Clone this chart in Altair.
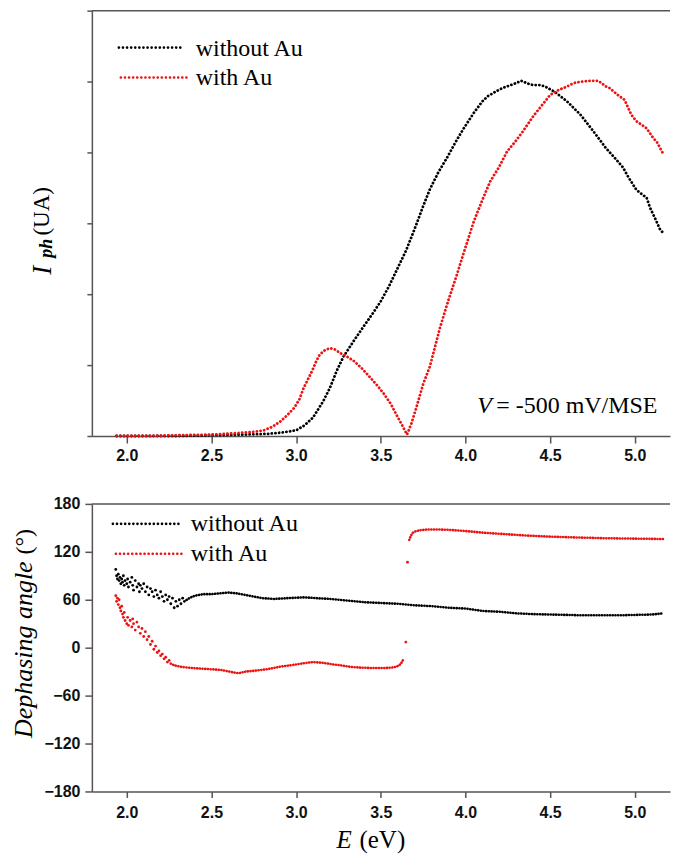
import altair as alt
import pandas as pd

# ---------------- data ----------------
series = ["without Au", "with Au"]
colors = ["#000000", "#ee1111"]

x_ticks = [2.0, 2.5, 3.0, 3.5, 4.0, 4.5, 5.0]
top_y_ticks = [0, 1, 2, 3, 4, 5, 6]
bot_y_ticks = [-180, -120, -60, 0, 60, 120, 180]
E_DOMAIN = [1.794, 5.208]

# Top panel: photocurrent (arbitrary units)
top_black_E = [1.94, 2.10, 2.30, 2.50, 2.70, 2.83, 2.92, 3.00, 3.05, 3.10, 3.16, 3.20, 3.24, 3.28, 3.34,
               3.40, 3.45, 3.50, 3.55, 3.60, 3.65, 3.70, 3.75, 3.79, 3.84, 3.89, 3.94, 3.99, 4.05, 4.10,
               4.13, 4.18, 4.22, 4.28, 4.33, 4.37, 4.40, 4.44, 4.47, 4.53, 4.60, 4.68, 4.755, 4.83, 4.89,
               4.93, 4.96, 5.01, 5.07, 5.09, 5.12, 5.15, 5.17]
top_black_I = [0.00, 0.00, 0.00, 0.01, 0.02, 0.03, 0.05, 0.08, 0.15, 0.26, 0.49, 0.68, 0.92, 1.12, 1.34,
               1.55, 1.72, 1.90, 2.12, 2.37, 2.62, 2.92, 3.24, 3.48, 3.72, 3.92, 4.14, 4.34, 4.56, 4.72,
               4.79, 4.86, 4.91, 4.96, 5.01, 4.97, 4.95, 4.95, 4.93, 4.85, 4.72, 4.53, 4.30, 4.06, 3.90,
               3.79, 3.66, 3.47, 3.36, 3.22, 3.07, 2.91, 2.86]

top_red_E = [1.94, 2.10, 2.30, 2.50, 2.65, 2.75, 2.81, 2.86, 2.91, 2.95, 2.99, 3.02, 3.045, 3.07, 3.095,
             3.12, 3.14, 3.17, 3.20, 3.23, 3.26, 3.30, 3.34, 3.39, 3.44, 3.48, 3.52, 3.56, 3.59, 3.62,
             3.655, 3.68, 3.71, 3.75, 3.79, 3.85, 3.90, 3.95, 4.00, 4.05, 4.10, 4.146, 4.20, 4.245, 4.30,
             4.34, 4.40, 4.44, 4.50, 4.55, 4.60, 4.64, 4.69, 4.74, 4.785, 4.83, 4.85, 4.90, 4.94, 4.98,
             5.01, 5.07, 5.11, 5.13, 5.15, 5.17]
top_red_I = [0.00, 0.00, 0.01, 0.02, 0.04, 0.06, 0.08, 0.13, 0.21, 0.30, 0.40, 0.52, 0.68, 0.80, 0.92,
             1.06, 1.15, 1.21, 1.24, 1.22, 1.17, 1.12, 1.06, 0.95, 0.82, 0.71, 0.59, 0.45, 0.31, 0.18,
             0.02, 0.17, 0.40, 0.73, 0.98, 1.53, 1.92, 2.28, 2.66, 3.03, 3.33, 3.59, 3.80, 4.01, 4.17,
             4.30, 4.51, 4.63, 4.81, 4.88, 4.93, 4.98, 5.00, 5.01, 5.01, 4.93, 4.91, 4.81, 4.74, 4.53,
             4.44, 4.34, 4.20, 4.15, 4.06, 3.97]

# Bottom panel: dephasing angle (degrees)
bot_black_cloud_E = [1.935, 1.94, 1.945, 1.95, 1.955, 1.96, 1.965, 1.97, 1.975, 1.98, 1.985, 1.99, 2.00,
                     2.005, 2.01, 2.02, 2.03, 2.035, 2.04, 2.05, 2.06, 2.07, 2.075, 2.08, 2.09, 2.10,
                     2.11, 2.12, 2.13, 2.14, 2.15, 2.16, 2.17, 2.18, 2.19, 2.20, 2.21, 2.22, 2.23, 2.24,
                     2.25, 2.26, 2.27, 2.28, 2.29, 2.30, 2.31, 2.32, 2.33]
bot_black_cloud_A = [98, 90, 86, 92, 84, 88, 80, 86, 82, 90, 78, 84, 80,
                     86, 76, 82, 88, 78, 72, 84, 76, 80, 70, 78, 74, 80,
                     70, 76, 66, 74, 70, 64, 72, 66, 62, 70, 64, 58, 66, 60,
                     64, 55, 62, 50, 58, 52, 60, 55, 62]
bot_black_E = [2.34, 2.37, 2.40, 2.45, 2.50, 2.55, 2.60, 2.65, 2.70, 2.75, 2.80, 2.87, 2.95, 3.05, 3.12,
               3.20, 3.30, 3.40, 3.50, 3.60, 3.70, 3.80, 3.90, 4.00, 4.10, 4.20, 4.30, 4.40, 4.50, 4.60,
               4.70, 4.80, 4.90, 5.00, 5.10, 5.17]
bot_black_A = [58, 62, 65, 67, 67, 68, 69, 68, 66, 64, 62, 61, 62, 63, 62,
               61, 59, 57, 56, 55, 53, 52, 50, 49, 46, 45, 43, 42, 41.5, 41,
               40.5, 40.5, 40.5, 41, 41.5, 43]

bot_red_cloud_E = [1.935, 1.94, 1.945, 1.95, 1.955, 1.96, 1.965, 1.97, 1.975, 1.98, 1.985, 1.99, 2.00,
                   2.005, 2.01, 2.02, 2.03, 2.035, 2.04, 2.05, 2.06, 2.07, 2.08, 2.09, 2.10, 2.11, 2.12,
                   2.13, 2.14, 2.15, 2.16, 2.17, 2.18, 2.19, 2.20, 2.21, 2.22, 2.23, 2.24, 2.25]
bot_red_cloud_A = [65, 58, 62, 54, 60, 50, 46, 52, 42, 38, 44, 34, 30,
                   38, 28, 34, 26, 36, 30, 22, 32, 26, 18, 24, 14, 20, 10,
                   14, 4, 8, -2, 2, -6, -4, -10, -8, -14, -12, -18, -16]
bot_red_E = [2.26, 2.28, 2.32, 2.36, 2.42, 2.50, 2.56, 2.63, 2.66, 2.70, 2.75, 2.83, 2.90, 2.97, 3.03,
             3.10, 3.16, 3.22, 3.26, 3.32, 3.38, 3.46, 3.52, 3.56, 3.59, 3.61, 3.625, 3.635]
bot_red_A = [-20, -22, -24, -25, -26, -27, -28, -31, -32, -30, -29, -27, -24, -22, -20,
             -18, -19, -21, -22, -24, -25, -25.5, -25.5, -25, -24, -22, -18, -14]
bot_red_jump_E = [3.648, 3.658]
bot_red_jump_A = [7, 107]
bot_red2_E = [3.668, 3.68, 3.69, 3.71, 3.73, 3.78, 3.83, 3.90, 4.00, 4.10, 4.245, 4.35, 4.50, 4.65,
              4.83, 5.00, 5.17]
bot_red2_A = [135, 141, 144, 146, 147, 148, 148, 147.5, 146, 144, 142, 140.5, 139, 138,
              137, 136.5, 136]

# ---------------- tables ----------------
top_df = pd.concat([
    pd.DataFrame({"E": top_black_E, "I": top_black_I, "series": series[0]}),
    pd.DataFrame({"E": top_red_E, "I": top_red_I, "series": series[1]}),
])
bot_line_df = pd.concat([
    pd.DataFrame({"E": bot_black_E, "A": bot_black_A, "series": series[0], "seg": "b"}),
    pd.DataFrame({"E": bot_red_E, "A": bot_red_A, "series": series[1], "seg": "r1"}),
    pd.DataFrame({"E": bot_red2_E, "A": bot_red2_A, "series": series[1], "seg": "r2"}),
])
bot_pt_df = pd.concat([
    pd.DataFrame({"E": bot_black_cloud_E, "A": bot_black_cloud_A, "series": series[0]}),
    pd.DataFrame({"E": bot_red_cloud_E, "A": bot_red_cloud_A, "series": series[1]}),
    pd.DataFrame({"E": bot_red_jump_E, "A": bot_red_jump_A, "series": series[1]}),
])
one = pd.DataFrame({"a": [0]})

# ---------------- styling ----------------
W = 579
H_TOP = 426
H_BOT = 288
AX = "#555555"
SERIF = "Times New Roman, Liberation Serif, DejaVu Serif, serif"
SANS = "Arial, Liberation Sans, sans-serif"

color = alt.Color("series:N", scale=alt.Scale(domain=series, range=colors), legend=None)


def x_enc(tick, pad):
    return alt.X("E:Q", scale=alt.Scale(domain=E_DOMAIN, nice=False, zero=False),
                 axis=alt.Axis(values=x_ticks, format=".1f", title=None, grid=False,
                               tickSize=tick, labelPadding=pad, labelFont=SANS, labelFontWeight="bold",
                               labelFontSize=16, labelColor="#111111", domainColor=AX, tickColor=AX,
                               domainWidth=1.5, tickWidth=1.5, labelFlush=False))


def txt(s, x, y, size, style="normal", weight="normal", angle=0, align="left", baseline="alphabetic"):
    return alt.Chart(one).mark_text(text=s, font=SERIF, fontSize=size, fontStyle=style,
                                    fontWeight=weight, angle=angle, align=align,
                                    baseline=baseline, color="black").encode(
        x=alt.value(x), y=alt.value(y))


def dotted(c, x1, x2, y, dash):
    return alt.Chart(one).mark_rule(color=c, strokeWidth=2.6, strokeDash=dash, strokeCap="round").encode(
        x=alt.value(x1), x2=alt.value(x2), y=alt.value(y))


def top_border():
    return alt.Chart(one).mark_rule(color=AX, strokeWidth=1.5).encode(
        x=alt.value(0), x2=alt.value(W), y=alt.value(0))


# ---------------- top panel ----------------
top_lines = alt.Chart(top_df).mark_line(strokeWidth=2.8, strokeDash=[0.1, 3.6], strokeCap="round").encode(
    x=x_enc(7, 5),
    y=alt.Y("I:Q", scale=alt.Scale(domain=[0, 6], nice=False),
            axis=alt.Axis(values=top_y_ticks, labels=False, title=None, grid=False, tickSize=5,
                          domainColor=AX, tickColor=AX, domainWidth=1.5, tickWidth=1.5)),
    color=color,
)

top = alt.layer(
    top_lines,
    top_border(),
    dotted(colors[0], 27, 92, 37, [0.1, 4.0]),
    dotted(colors[1], 29, 95, 67, [0.1, 4.0]),
    txt("without Au", 104, 45, 24),
    txt("with Au", 104, 74, 24),
    txt("V", 386, 403, 24, style="italic"),
    txt("= -500 mV/MSE", 405, 403, 24),
    txt("I", -41, 260, 27, style="italic", angle=270, align="center"),
    txt("ph", -40, 238, 18, style="italic", weight="bold", angle=270, align="center"),
    txt("(UA)", -43, 201, 23, angle=270, align="center"),
).properties(width=W, height=H_TOP)

# ---------------- bottom panel ----------------
bx = x_enc(6, 7)
by = alt.Y("A:Q", scale=alt.Scale(domain=[-180, 180], nice=False),
           axis=alt.Axis(values=bot_y_ticks, title=None, grid=False, tickSize=7, labelPadding=5,
                         labelFont=SANS, labelFontWeight="bold", labelFontSize=16, labelColor="#111111",
                         domainColor=AX, tickColor=AX, domainWidth=1.5, tickWidth=1.5))

bot_lines = alt.Chart(bot_line_df).mark_line(strokeWidth=2.6, strokeDash=[0.1, 2.6], strokeCap="round").encode(
    x=bx, y=by, color=color, detail="seg:N")
bot_pts = alt.Chart(bot_pt_df).mark_circle(size=8, opacity=1).encode(x=bx, y=by, color=color)

bottom = alt.layer(
    bot_lines,
    bot_pts,
    top_border(),
    dotted(colors[0], 21, 87, 20, [0.1, 4.0]),
    dotted(colors[1], 24, 91, 50, [0.1, 4.0]),
    txt("without Au", 99, 27, 24),
    txt("with Au", 99, 57, 24),
    txt("Dephasing angle", -60, 146, 26, style="italic", angle=270, align="center"),
    txt("(°)", -60, 38, 24, angle=270, align="center"),
    txt("E", 245, 345, 25, style="italic"),
    txt("(eV)", 268, 345, 25),
).properties(width=W, height=H_BOT)

chart = alt.vconcat(top, bottom, spacing=68, bounds="flush").properties(
    padding={"left": 3, "top": 1, "right": 0, "bottom": 0}
).configure_view(stroke=None)

chart.save("out.html", embed_options={"renderer": "svg", "actions": False})
